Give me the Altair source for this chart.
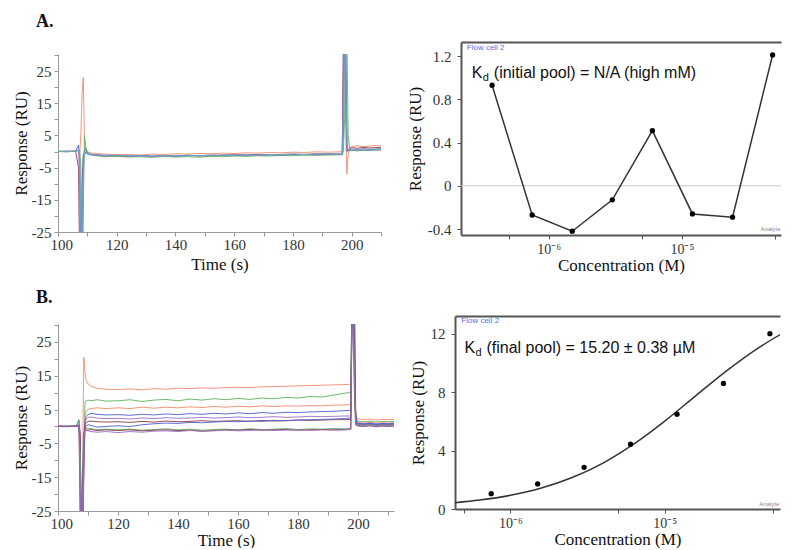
import altair as alt
import pandas as pd

# ---------------- Panel A (left): sensorgrams, initial pool ----------------
TIME_A = [100, 103, 106,
          107.0, 107.4, 107.8, 108.2, 108.6, 109.0, 109.4,
          110, 111, 113, 116,
          120, 124, 128, 132, 136, 140, 144, 148, 152, 156, 160, 164, 168, 172, 176, 180, 184, 188, 192, 196,
          196.8, 197.2, 197.6, 198.0, 198.4, 198.8, 199.4,
          200, 202, 204, 206, 208, 210]

A_SALMON = [0.1, 0.0, 0.2,
            0.3, -1, 6, 18, 23, 4, -0.5,
            0.0, -0.4, -0.6, -0.8,
            -1.0, -0.9, -1.1, -0.8, -0.9, -0.7, -0.8, -0.6, -0.7, -0.5, -0.6, -0.4, -0.5, -0.3, -0.4, -0.2, -0.3, -0.1, -0.2, -0.1,
            0.0, 25, 40, 5, -7, -1, 1.0,
            1.6, 1.8, 1.5, 1.7, 1.9, 1.8]
A_MAROON = [0.0, 0.1, 0.0,
            -5, -40, -40, -10, -1, -0.5, -0.3,
            -0.6, -0.9, -1.1, -1.2,
            -1.3, -1.4, -1.2, -1.5, -1.3, -1.4, -1.2, -1.3, -1.1, -1.2, -1.0, -1.1, -0.9, -1.0, -0.9, -0.8, -0.9, -0.7, -0.8, -0.8,
            -0.7, 35, 40, 20, 0, 0.5, 0.8,
            1.2, 1.0, 1.3, 1.1, 1.2, 1.3]
A_BLUE = [0.0, -0.1, 0.1,
          2.0, -3, -40, -40, -5, 0.5, 1.0,
          -0.3, -0.8, -1.0, -1.3,
          -1.2, -1.4, -1.3, -1.5, -1.2, -1.4, -1.3, -1.2, -1.4, -1.1, -1.2, -1.0, -1.2, -1.0, -1.1, -0.9, -1.0, -0.9, -0.8, -0.9,
          -0.9, 5, 40, 40, 3, 0.2, 0.3,
          0.4, 0.2, 0.5, 0.3, 0.6, 0.5]
A_GREEN = [0.1, 0.0, 0.1,
           0.5, 0, -5, -40, -20, 5, 1.5,
           -0.2, -1.0, -1.3, -1.6,
           -1.5, -1.7, -1.6, -1.8, -1.5, -1.7, -1.6, -1.8, -1.5, -1.6, -1.4, -1.5, -1.3, -1.4, -1.2, -1.3, -1.1, -1.2, -1.1, -1.0,
           -1.0, 0, 10, 40, 35, 5, 0.5,
           0.2, 0.5, 0.3, 0.6, 0.4, 0.5]
A_PURPLE = [0.0, 0.1, 0.0,
            0.5, -10, -40, -15, -2, -0.5, -0.5,
            -0.8, -1.0, -1.2, -1.4,
            -1.3, -1.5, -1.4, -1.6, -1.3, -1.5, -1.2, -1.4, -1.3, -1.2, -1.3, -1.1, -1.2, -1.0, -1.1, -1.0, -0.9, -1.0, -0.9, -0.8,
            -0.8, 30, 40, 15, 1, 0.4, 0.6,
            0.8, 0.6, 0.9, 0.7, 0.8, 0.9]
A_TEAL = [0.0, 0.0, 0.1,
          0.3, -1, -20, -40, -8, -0.5, -0.2,
          -0.5, -0.9, -1.0, -1.2,
          -1.1, -1.3, -1.2, -1.4, -1.2, -1.3, -1.1, -1.3, -1.2, -1.1, -1.2, -1.0, -1.1, -0.9, -1.0, -0.8, -0.9, -0.8, -0.7, -0.8,
          -0.8, 10, 40, 30, 2, 0.3, 0.4,
          0.6, 0.4, 0.7, 0.5, 0.6, 0.7]
A_NAMES = ["salmon", "maroon", "blue", "green", "purple", "teal"]
A_COLORS = ["#f08a70", "#8c3848", "#5060d0", "#5db35d", "#9a70c8", "#60b0c0"]
A_SERIES = [A_SALMON, A_MAROON, A_BLUE, A_GREEN, A_PURPLE, A_TEAL]

# ---------------- Panel B (left): sensorgrams, final pool ----------------
TIME_B = [100, 103, 106,
          107.0, 107.4, 107.8, 108.2, 108.6, 109.0, 109.4,
          110, 111, 113, 116,
          120, 124, 128, 132, 136, 140, 144, 148, 152, 156, 160, 164, 168, 172, 176, 180, 184, 188, 192, 196,
          197.6, 198.0, 198.4, 198.8, 199.2, 199.6, 200.2,
          202, 204, 206, 208, 210, 212]

B_SALMON = [0.1, 0.0, 0.2,
            0.5, -2, -40, -10, 20.5, 16, 13.5,
            12.6, 11.9, 11.3, 11.0,
            10.9, 11.1, 10.8, 11.2, 11.0, 11.3, 11.2, 11.4, 11.3, 11.5, 11.6, 11.5, 11.7, 11.8, 11.9, 12.0, 12.1, 12.2, 12.3, 12.4,
            12.5, 40, 40, 15, 3, 2.4, 2.2,
            2.0, 2.2, 1.9, 2.1, 2.0, 2.1]
B_GREEN = [0.0, 0.1, 0.0,
           0.2, -5, -40, -40, -8, 7.2, 7.6,
           7.8, 7.6, 7.9, 7.5,
           7.6, 7.9, 7.4, 7.8, 8.0, 7.6, 8.1, 7.8, 8.2, 7.9, 8.3, 8.0, 8.4, 8.2, 8.6, 8.4, 8.9, 8.7, 9.3, 9.9,
           10.0, 40, 40, 30, 4, 1.8, 1.5,
           1.4, 1.6, 1.3, 1.5, 1.4, 1.5]
B_LIGHTBLUE = [0.0, 0.0, 0.1,
               0.1, -3, -30, -40, -12, 3.0, 4.5,
               5.0, 5.3, 5.5, 5.3,
               5.5, 5.3, 5.7, 5.4, 5.7, 5.5, 5.8, 5.6, 5.9, 5.7, 6.0, 5.8, 6.1, 5.9, 6.1, 6.0, 6.2, 6.1, 6.3, 6.4,
               6.5, 35, 40, 40, 6, 1.4, 1.2,
               1.0, 1.2, 0.9, 1.1, 1.0, 1.1]
B_BLUE = [0.0, -0.1, 0.1,
          2.0, -2, -40, -40, -15, 1.5, 3.0,
          3.5, 3.9, 3.6, 3.4,
          3.5, 3.3, 3.6, 3.4, 3.7, 3.5, 3.8, 3.6, 3.9, 3.7, 4.0, 3.8, 4.1, 3.9, 4.2, 4.1, 4.3, 4.4, 4.5, 4.7,
          4.8, 40, 40, 25, 3, 1.1, 0.9,
          0.8, 1.0, 0.7, 0.9, 0.8, 0.9]
B_PURPLE = [0.0, 0.1, 0.0,
            0.5, -8, -40, -25, -3, 1.5, 2.2,
            2.6, 2.8, 2.5, 2.3,
            2.4, 2.2, 2.5, 2.3, 2.6, 2.4, 2.5, 2.7, 2.5, 2.6, 2.8, 2.6, 2.7, 2.9, 2.7, 2.8, 3.0, 2.9, 3.0, 3.1,
            3.1, 35, 40, 20, 2, 0.8, 0.7,
            0.6, 0.8, 0.5, 0.7, 0.6, 0.7]
B_LAVENDER = [0.1, 0.0, 0.1,
              0.3, -4, -40, -30, -5, 0.5, 1.2,
              1.5, 1.6, 1.4, 1.3,
              1.4, 1.2, 1.5, 1.3, 1.6, 1.4, 1.5, 1.7, 1.5, 1.6, 1.7, 1.5, 1.8, 1.6, 1.7, 1.9, 1.8, 1.9, 2.0, 2.0,
              2.1, 30, 40, 25, 2, 0.6, 0.5,
              0.4, 0.6, 0.3, 0.5, 0.4, 0.5]
B_GREEN2 = [0.0, 0.0, 0.1,
            0.2, -6, -40, -40, -10, -1.0, 0.2,
            0.5, 0.3, -0.2, 0.0,
            0.2, 0.0, 0.5, 0.8, 1.0, 0.9, 1.2, 1.1, 1.3, 1.5, 1.4, 1.6, 1.5, 1.8, 1.7, 1.9, 2.0, 2.1, 2.2, 2.4,
            2.5, 30, 40, 40, 5, 1.0, 0.8,
            0.7, 0.9, 0.6, 0.8, 0.7, 0.8]
B_BLUE2 = [0.0, 0.1, 0.0,
           1.5, -10, -40, -30, -4, -0.8, -0.6,
           -0.5, -0.7, -0.9, -0.8,
           -1.0, -0.8, -1.1, -0.9, -0.7, -1.0, -0.8, -1.1, -0.9, -0.8, -1.0, -0.7, -0.9, -0.8, -0.6, -0.9, -0.7, -0.8, -0.6, -0.7,
           -0.6, 40, 40, 10, 1, 0.5, 0.4,
           0.3, 0.5, 0.2, 0.4, 0.3, 0.4]
B_MAROON = [0.0, 0.0, 0.0,
            0.3, -30, -40, -15, -2, -0.8, -1.0,
            -1.1, -0.9, -1.2, -1.0,
            -1.2, -1.0, -1.3, -1.1, -1.0, -1.2, -1.1, -1.4, -1.2, -1.0, -1.1, -0.9, -1.1, -1.0, -0.9, -1.1, -1.0, -0.9, -1.0, -0.9,
            -0.8, 40, 40, 12, 0.5, 0.2, 0.1,
            0.0, 0.2, -0.1, 0.1, 0.0, 0.1]
B_RED = [0.1, 0.0, 0.1,
         0.2, -20, -40, -20, -3, -1.0, -1.2,
         -1.3, -1.5, -1.7, -1.5,
         -1.8, -1.5, -1.7, -1.4, -1.3, -1.5, -1.2, -1.4, -1.3, -1.1, -1.3, -1.2, -1.0, -1.2, -1.1, -1.0, -1.2, -1.0, -1.1, -1.0,
         -0.9, 35, 40, 15, 1, 0.3, 0.2,
         0.1, 0.3, 0.0, 0.2, 0.1, 0.2]
B_NAMES = ["salmon", "green", "lightblue", "blue", "purple", "lavender", "green2", "blue2", "maroon", "red"]
B_COLORS = ["#f08a70", "#5db35d", "#8cc8ec", "#5a60d8", "#a070c8", "#d8a8d8", "#8cc878", "#5050b0", "#8c3848", "#e07080"]
B_SERIES = [B_SALMON, B_GREEN, B_LIGHTBLUE, B_BLUE, B_PURPLE, B_LAVENDER, B_GREEN2, B_BLUE2, B_MAROON, B_RED]

# ---------------- Panel A (right): steady-state response, initial pool ----------------
CONC_A = [3.75e-7, 7.5e-7, 1.5e-6, 3e-6, 6e-6, 1.2e-5, 2.4e-5, 4.8e-5]
RESP_A = [0.93, -0.27, -0.42, -0.13, 0.51, -0.26, -0.29, 1.21]

# ---------------- Panel B (right): steady-state response + fit, final pool ----------------
CONC_B = [7.5e-7, 1.5e-6, 3e-6, 6e-6, 1.2e-5, 2.4e-5, 4.8e-5]
RESP_B = [1.05, 1.72, 2.86, 4.44, 6.5, 8.61, 12.02]
FIT_CONC_B = [4.37e-7, 6.31e-7, 1.0e-6, 1.585e-6, 2.512e-6, 3.981e-6, 6.31e-6,
              1.0e-5, 1.585e-5, 2.512e-5, 3.981e-5, 6.31e-5, 7.94e-5]
FIT_RESP_B = [0.43, 0.61, 0.94, 1.44, 2.16, 3.15, 4.46, 6.03, 7.76, 9.47, 11.0, 12.25, 12.76]

SERIF = "Liberation Serif"
SANS = "Liberation Sans"
FRAME = "#555"
NO_FRAME = alt.ViewBackground(stroke="transparent", strokeOpacity=0, strokeWidth=0)


def sensor_panel(times, series, names, colors, xmax, width, height, xtitle_pad):
    frames = []
    for n, vals in zip(names, series):
        df = pd.DataFrame({"t": times, "v": vals})
        df["s"] = n
        frames.append(df)
    data = pd.concat(frames, ignore_index=True)
    xaxis = alt.Axis(values=list(range(100, int(xmax) + 1, 10)),
                     labelExpr="datum.value % 20 == 0 ? '' + datum.value : ''",
                     title="Time (s)", titleFont=SERIF, titleFontSize=17, titleFontWeight="normal",
                     titleColor="#111", titlePadding=xtitle_pad,
                     labelFont=SERIF, labelFontSize=15, labelColor="#333", labelPadding=1,
                     labelFlush=True, labelFlushOffset=8,
                     domainColor="#999", tickColor="#999", tickSize=4, grid=False)
    yaxis = alt.Axis(values=list(range(-25, 31, 5)),
                     labelExpr="(datum.value + 25) % 10 == 0 ? '' + datum.value : ''",
                     title="Response (RU)", titleFont=SERIF, titleFontSize=17, titleFontWeight="normal",
                     titleColor="#111", titlePadding=1,
                     labelFont=SERIF, labelFontSize=15, labelColor="#333", labelPadding=3,
                     domainColor="#999", tickColor="#999", tickSize=4, grid=False)
    return alt.Chart(data).mark_line(clip=True, strokeWidth=1, opacity=0.9).encode(
        x=alt.X("t:Q", scale=alt.Scale(domain=[100, xmax], nice=False, zero=False), axis=xaxis),
        y=alt.Y("v:Q", scale=alt.Scale(domain=[-25, 30.3], nice=False, zero=False), axis=yaxis),
        color=alt.Color("s:N", scale=alt.Scale(domain=names, range=colors), legend=None),
        detail="s:N",
    ).properties(width=width, height=height, view=NO_FRAME)


def conc_axis():
    return alt.Axis(values=[5e-7, 1e-6, 5e-6, 1e-5, 5e-5],
                    labelExpr="datum.value > 9e-7 && datum.value < 1.1e-6 ? '10⁻⁶' : "
                              "(datum.value > 9e-6 && datum.value < 1.1e-5 ? '10⁻⁵' : '')",
                    title="Concentration (M)", titleFont=SERIF, titleFontSize=17, titleFontWeight="normal",
                    titleColor="#111", titlePadding=1,
                    labelFont=SERIF, labelFontSize=14, labelColor="#333", labelPadding=3,
                    domain=True, domainColor=FRAME, domainWidth=2,
                    tickColor=FRAME, tickSize=4, grid=False)


def top_axis():
    return alt.Axis(orient="top", labels=False, ticks=False, title=None,
                    domain=True, domainColor=FRAME, domainWidth=2, grid=False)


def resp_axis(values, step_expr):
    return alt.Axis(values=values, labelExpr=step_expr,
                    title="Response (RU)", titleFont=SERIF, titleFontSize=17, titleFontWeight="normal",
                    titleColor="#111", titlePadding=3,
                    labelFont=SERIF, labelFontSize=15, labelColor="#333", labelPadding=6,
                    domain=True, domainColor=FRAME, domainWidth=2,
                    tickColor=FRAME, tickSize=4, grid=False)


def kd_text(x, y, rest):
    d = pd.DataFrame({"x": [x], "y": [y]})
    base = alt.Chart(d)
    enc = dict(x=alt.X("x:Q", axis=None), y="y:Q")
    k = base.mark_text(text="K", font=SANS, fontSize=16, align="left", baseline="alphabetic", color="#111").encode(**enc)
    sub = base.mark_text(text="d", font=SANS, fontSize=11, align="left", baseline="alphabetic", color="#111", dx=11, dy=3).encode(**enc)
    r = base.mark_text(text=rest, font=SANS, fontSize=16, align="left", baseline="alphabetic", color="#111", dx=22).encode(**enc)
    return [k, sub, r]


def small_text(x, y, txt, color, size):
    d = pd.DataFrame({"x": [x], "y": [y]})
    return alt.Chart(d).mark_text(text=txt, font=SANS, fontSize=size, align="left", baseline="middle", color=color).encode(
        x=alt.X("x:Q", axis=None), y="y:Q")


# ---- right A ----
xsA = alt.Scale(type="log", domain=[2.19e-7, 5.55e-5], nice=False)
ysA = alt.Scale(domain=[-0.455, 1.33], nice=False, zero=False)
dfA = pd.DataFrame({"c": CONC_A, "r": RESP_A})
yvalsA = [-0.4, -0.2, 0, 0.2, 0.4, 0.6, 0.8, 1.0, 1.2]
yaxA = resp_axis(yvalsA, "abs(round(datum.value * 10)) % 4 == 0 ? '' + round(datum.value * 10) / 10 : ''")
zeroA = alt.Chart(pd.DataFrame({"y": [0]})).mark_rule(color="#c8c8c8", strokeWidth=1).encode(y=alt.Y("y:Q", scale=ysA))
lineA = alt.Chart(dfA).mark_line(color="#333", strokeWidth=1.5).encode(
    x=alt.X("c:Q", scale=xsA, axis=conc_axis()), y=alt.Y("r:Q", scale=ysA, axis=yaxA))
ptsA = alt.Chart(dfA).mark_point(filled=True, size=28, color="#000", opacity=1).encode(
    x=alt.X("c:Q", scale=xsA, axis=None), y=alt.Y("r:Q", scale=ysA))
topA = alt.Chart(dfA).mark_point(opacity=0).encode(x=alt.X("c:Q", scale=xsA, axis=top_axis()))
rightA = alt.layer(
    zeroA, lineA, ptsA, topA,
    *kd_text(2.64e-7, 1.0, "(initial pool) = N/A (high mM)"),
    small_text(2.42e-7, 1.277, "Flow cell 2", "#5a6ee8", 8),
    small_text(3.9e-5, -0.397, "Analyte", "#888", 6),
).resolve_axis(x="independent").properties(width=320, height=193, view=NO_FRAME)

# ---- right B ----
xsB = alt.Scale(type="log", domain=[4.37e-7, 5.58e-5], nice=False)
ysB = alt.Scale(domain=[0, 13.23], nice=False, zero=False)
dfB = pd.DataFrame({"c": CONC_B, "r": RESP_B})
dfFit = pd.DataFrame({"c": FIT_CONC_B, "r": FIT_RESP_B})
yaxB = resp_axis([0, 2, 4, 6, 8, 10, 12], "datum.value % 4 == 0 ? '' + datum.value : ''")
fitB = alt.Chart(dfFit).mark_line(color="#333", strokeWidth=1.5, interpolate="monotone", clip=True).encode(
    x=alt.X("c:Q", scale=xsB, axis=conc_axis()), y=alt.Y("r:Q", scale=ysB, axis=yaxB))
ptsB = alt.Chart(dfB).mark_point(filled=True, size=28, color="#000", opacity=1).encode(
    x=alt.X("c:Q", scale=xsB, axis=None), y=alt.Y("r:Q", scale=ysB))
topB = alt.Chart(dfB).mark_point(opacity=0).encode(x=alt.X("c:Q", scale=xsB, axis=top_axis()))
rightB = alt.layer(
    fitB, ptsB, topB,
    *kd_text(5.03e-7, 10.7, "(final pool) = 15.20 ± 0.38 µM"),
    small_text(4.8e-7, 12.9, "Flow cell 2", "#5a6ee8", 8),
    small_text(4.1e-5, 0.34, "Analyte", "#888", 6),
).resolve_axis(x="independent").properties(width=325, height=193, view=NO_FRAME)


def spacer(width, height):
    return alt.Chart(pd.DataFrame({"z": [0]})).mark_point(opacity=0).encode(
        x=alt.X("z:Q", axis=None), y=alt.Y("z:Q", axis=None)
    ).properties(width=width, height=height, view=NO_FRAME)


leftA = sensor_panel(TIME_A, A_SERIES, A_NAMES, A_COLORS, 210, 323, 178, 4)
leftB = sensor_panel(TIME_B, B_SERIES, B_NAMES, B_COLORS, 212, 336, 187, 1)

title_common = dict(anchor="start", font=SERIF, fontSize=18, fontWeight="bold", color="#111", dx=24)

rowA = alt.hconcat(
    alt.vconcat(spacer(323, 12), leftA, spacing=0),
    rightA, spacing=24,
    title=alt.TitleParams("A.", offset=11, **title_common),
)
rowB = alt.hconcat(
    alt.vconcat(spacer(336, 8), leftB, spacing=0),
    rightB, spacing=15,
    title=alt.TitleParams("B.", offset=9, **title_common),
)

chart = alt.vconcat(rowA, rowB, spacing=16).properties(
    padding={"left": 4, "top": 5, "right": 0, "bottom": 0}
).configure_view(stroke="transparent", strokeWidth=0).configure(background="white")

chart.save("out.html", embed_options={"renderer": "svg", "actions": False})
